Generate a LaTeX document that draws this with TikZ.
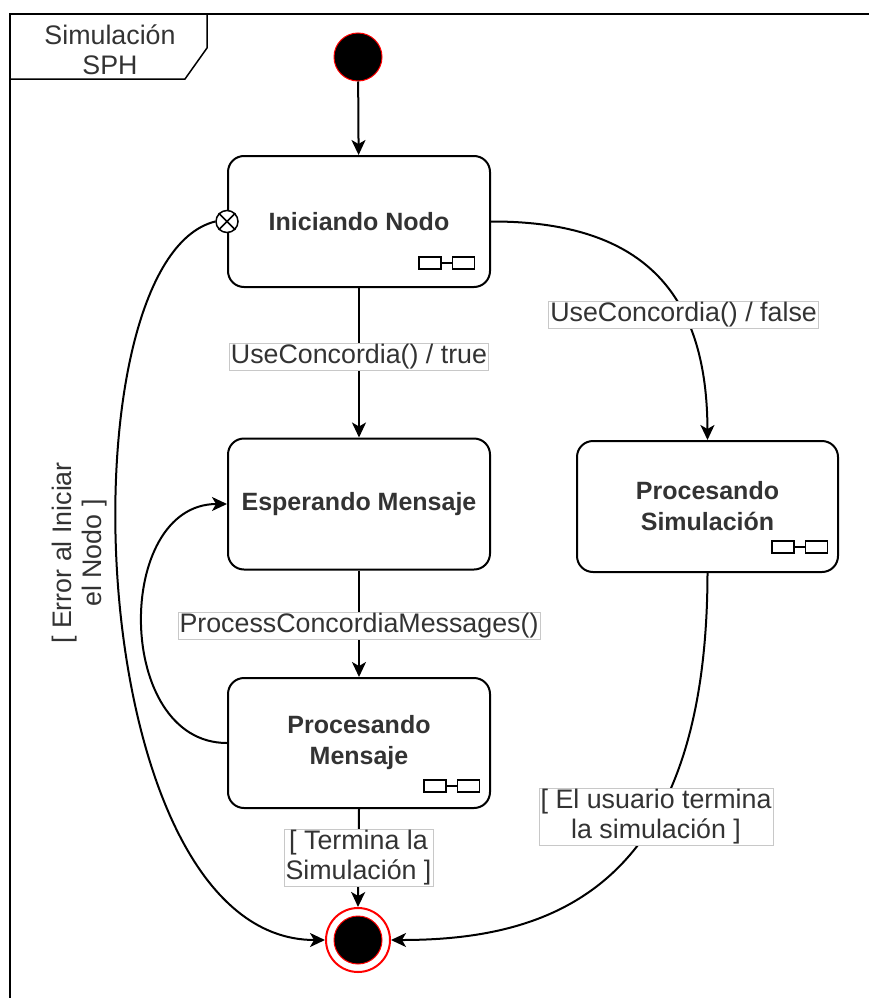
\documentclass[tikz,border=0pt]{standalone}
\usepackage{fontspec}
\setmainfont{Liberation Sans}
\usetikzlibrary{arrows.meta}
\definecolor{txt}{HTML}{333333}
\definecolor{lblline}{HTML}{C8C8C8}
\definecolor{ured}{HTML}{FF0000}
\begin{document}
\begin{tikzpicture}[x=1pt,y=-1pt,line width=2pt,
  basefont/.style={font=\fontsize{26.8}{30}\selectfont},
  statebox/.style={draw, rounded corners=16pt, minimum width=262pt, minimum height=131pt,
    align=center, text=txt, font=\fontsize{25}{31}\selectfont\bfseries, inner sep=0pt},
  lbl/.style={draw=lblline, line width=0.8pt, fill=white, text=txt, align=center,
    inner xsep=1.5pt, inner ysep=1pt, basefont},
  arr/.style={-{Stealth[length=15pt,width=14pt,inset=4pt]}, line width=2pt},
  startdot/.style={circle, fill=black, draw=ured, line width=1pt, minimum size=48pt, inner sep=0pt},
  endring/.style={circle, fill=white, draw=ured, line width=2pt, minimum size=64pt, inner sep=0pt},
  exitpt/.style={circle, fill=white, draw, line width=1.5pt, minimum size=22pt, inner sep=0pt},
  linkicon/.style={draw, line width=1.6pt, minimum width=22pt, minimum height=12pt, inner sep=0pt}
]
\clip (0,0) rectangle (869,998);

% outer frame with its name tab
\draw[line width=1.5pt] (10,14) rectangle (900,1030);
\draw[line width=1.5pt] (10,14) -- (207,14) -- (207,48) -- (185,79) -- (10,79);
\node[basefont, text=txt, align=center] (title) at (110,50) {Simulación\\SPH};

% states
\node[startdot] (init) at (358,57) {};
\node[statebox] (ini)  at (359,221.5) {Iniciando Nodo};
\node[statebox] (esp)  at (359,504) {Esperando Mensaje};
\node[statebox, minimum height=130pt] (pmsg) at (359,743) {Procesando\\Mensaje};
\node[statebox, minimum width=261pt] (psim) at (707.5,506.5) {Procesando\\Simulación};
\node[endring] (final) at (358,940) {};
\node[startdot] (finaldot) at (358,940) {};

% sub-machine icons
\foreach \n/\x/\y in {ia/430/263, pa/435/786, sa/783/547}{
  \node[linkicon] (\n1) at (\x,\y) {};
  \node[linkicon, anchor=west] (\n2) at ([xshift=10pt]\n1.east) {};
  \draw[line width=1.6pt] (\n1.east) -- (\n2.west);
}

% exit point on Iniciando Nodo
\node[exitpt] (ex) at (ini.west) {};
\draw[line width=1.5pt] (ex.north east) -- (ex.south west) (ex.north west) -- (ex.south east);

% transitions
\draw[arr] (init) -- (ini);
\draw[arr] (ini.south) -- node[lbl, pos=0.46] (l1) {UseConcordia() / true} (esp.north);
\draw[arr] (ini.east) .. controls (650,221) and (707,300) .. node[lbl, pos=0.645] (l2) {UseConcordia() / false} (psim.north);
\draw[arr] (esp.south) -- node[lbl, pos=0.52] (l3) {ProcessConcordiaMessages()} (pmsg.north);
\draw[arr] (pmsg.west) .. controls (114,743) and (114,504) .. (esp.west);
\draw[arr] (pmsg.south) -- node[lbl, pos=0.5] (l4) {[ Termina la\\Simulación ]} (final.north);
\draw[arr] (ex.west) .. controls (60,260) and (80,940) .. (final.west);
\draw[arr] (psim.south) .. controls (707,890) and (550,940) .. node[lbl, pos=0.35] (l5) {[ El usuario termina\\la simulación ]} (final.east);
\node[basefont, text=txt, align=center, rotate=90] (l6) at (80,553) {[ Error al Iniciar\\el Nodo ]};
\end{tikzpicture}
\end{document}
